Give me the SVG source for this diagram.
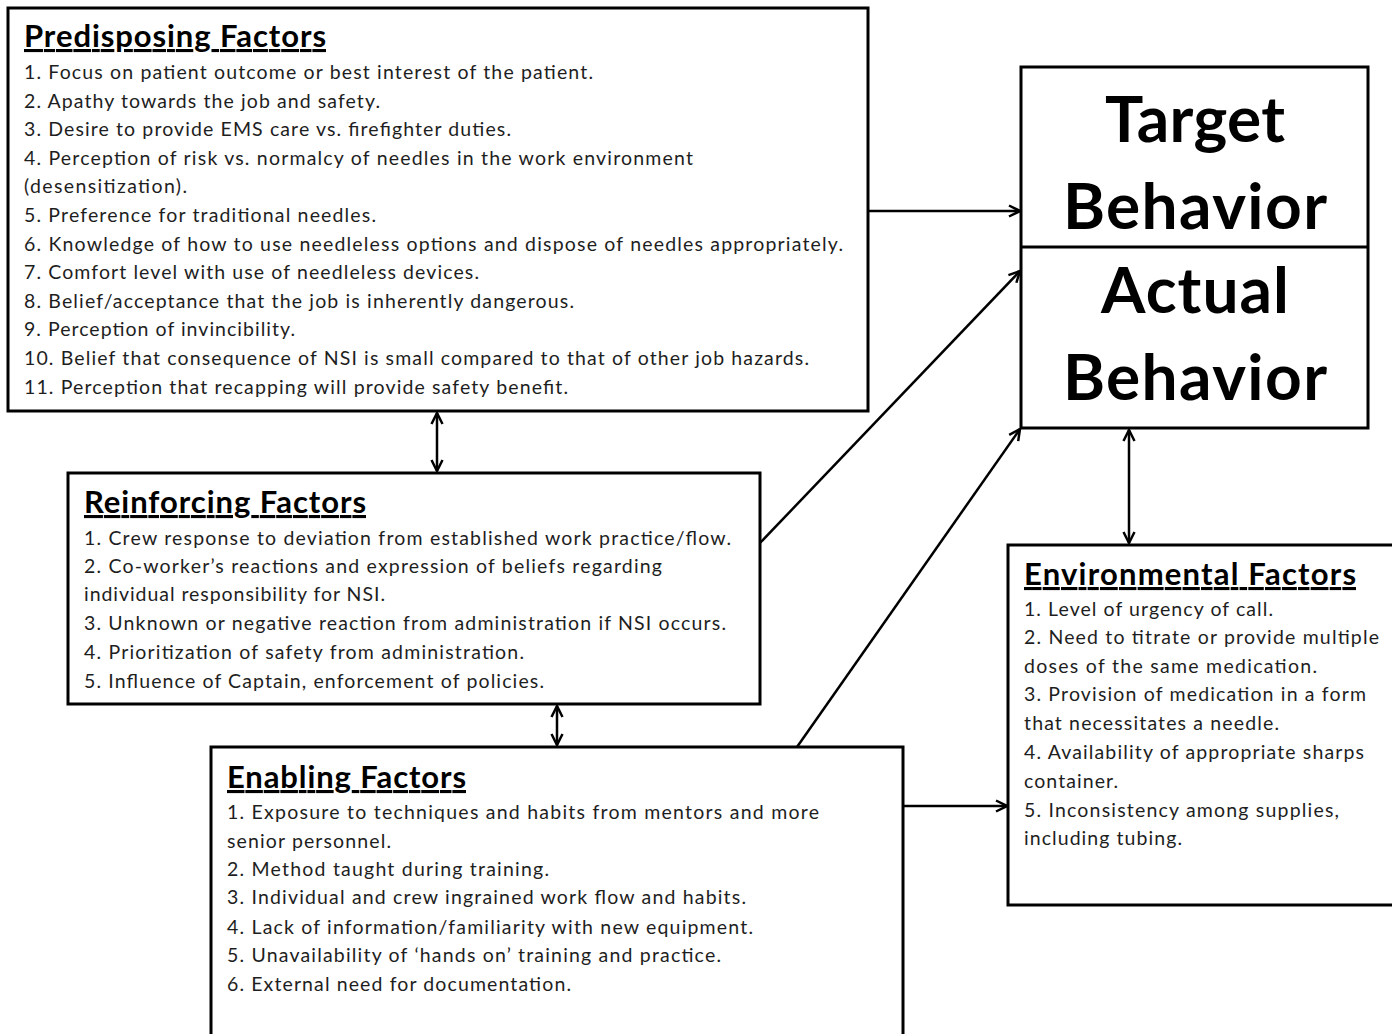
<svg xmlns="http://www.w3.org/2000/svg" width="1392" height="1034" viewBox="0 0 1392 1034">
  <defs>
    <style>
      .box { fill: #ffffff; stroke: #000000; stroke-width: 3; }
      .link { fill: none; stroke: #000000; stroke-width: 2.5; }
      .head { font-family: Lato, "Liberation Sans", sans-serif; font-weight: bold; font-size: 31px; fill: #000000; text-decoration: underline; }
      .item { font-family: Lato, "Liberation Sans", sans-serif; font-size: 19.5px; fill: #1e1e1e; }
      .big { font-family: Lato, "Liberation Sans", sans-serif; font-weight: bold; font-size: 64px; fill: #000000; text-anchor: middle; }
    </style>
    <marker id="head" viewBox="0 0 14 14" refX="13" refY="7" markerWidth="14" markerHeight="14" markerUnits="userSpaceOnUse" orient="auto-start-reverse">
      <path d="M2,1.5 L13,7 L2,12.5" fill="none" stroke="#000000" stroke-width="2.5"/>
    </marker>
  </defs>
  <rect width="1392" height="1034" fill="#ffffff"/>

  <!-- connectors -->
  <g id="connectors">
    <line class="link" x1="868" y1="211" x2="1020" y2="211" marker-end="url(#head)"/>
    <line class="link" x1="437" y1="413" x2="437" y2="471" marker-start="url(#head)" marker-end="url(#head)"/>
    <line class="link" x1="760" y1="543" x2="1020" y2="271" marker-end="url(#head)"/>
    <line class="link" x1="797" y1="747" x2="1020" y2="429" marker-end="url(#head)"/>
    <line class="link" x1="1129" y1="430" x2="1129" y2="543" marker-start="url(#head)" marker-end="url(#head)"/>
    <line class="link" x1="557" y1="706" x2="557" y2="745" marker-start="url(#head)" marker-end="url(#head)"/>
    <line class="link" x1="903" y1="806" x2="1007" y2="806" marker-end="url(#head)"/>
  </g>

  <!-- Predisposing Factors -->
  <g id="predisposing">
    <rect class="box" x="8" y="8" width="860" height="403"/>
    <text class="head" x="24" y="47" textLength="302">Predisposing Factors</text>
    <text class="item" x="24" y="79" textLength="569">1. Focus on patient outcome or best interest of the patient.</text>
    <text class="item" x="24" y="107.6" textLength="356">2. Apathy towards the job and safety.</text>
    <text class="item" x="24" y="136.2" textLength="487">3. Desire to provide EMS care vs. firefighter duties.</text>
    <text class="item" x="24" y="164.8" textLength="669">4. Perception of risk vs. normalcy of needles in the work environment</text>
    <text class="item" x="24" y="193.4" textLength="163">(desensitization).</text>
    <text class="item" x="24" y="222" textLength="352">5. Preference for traditional needles.</text>
    <text class="item" x="24" y="250.6" textLength="819">6. Knowledge of how to use needleless options and dispose of needles appropriately.</text>
    <text class="item" x="24" y="279.2" textLength="455">7. Comfort level with use of needleless devices.</text>
    <text class="item" x="24" y="307.8" textLength="550">8. Belief/acceptance that the job is inherently dangerous.</text>
    <text class="item" x="24" y="336.4" textLength="271">9. Perception of invincibility.</text>
    <text class="item" x="24" y="365" textLength="785">10. Belief that consequence of NSI is small compared to that of other job hazards.</text>
    <text class="item" x="24" y="393.6" textLength="544">11. Perception that recapping will provide safety benefit.</text>
  </g>

  <!-- Target / Actual Behavior -->
  <g id="behavior">
    <rect class="box" x="1021" y="67" width="347" height="361"/>
    <line x1="1021" y1="247" x2="1368" y2="247" stroke="#000000" stroke-width="3"/>
    <text class="big" x="1195" y="142" textLength="180">Target</text>
    <text class="big" x="1195" y="229" textLength="264">Behavior</text>
    <text class="big" x="1195" y="313" textLength="188">Actual</text>
    <text class="big" x="1195" y="400" textLength="264">Behavior</text>
  </g>

  <!-- Reinforcing Factors -->
  <g id="reinforcing">
    <rect class="box" x="68" y="473" width="692" height="231"/>
    <text class="head" x="84" y="513" textLength="282">Reinforcing Factors</text>
    <text class="item" x="84" y="545" textLength="647">1. Crew response to deviation from established work practice/flow.</text>
    <text class="item" x="84" y="573" textLength="578">2. Co-worker’s reactions and expression of beliefs regarding</text>
    <text class="item" x="84" y="601" textLength="301">individual responsibility for NSI.</text>
    <text class="item" x="84" y="630" textLength="642">3. Unknown  or negative reaction from administration if NSI occurs.</text>
    <text class="item" x="84" y="659" textLength="440">4. Prioritization of safety from administration.</text>
    <text class="item" x="84" y="688" textLength="460">5. Influence of Captain, enforcement of policies.</text>
  </g>

  <!-- Enabling Factors -->
  <g id="enabling">
    <rect class="box" x="211" y="747" width="692" height="295"/>
    <text class="head" x="227" y="788" textLength="239">Enabling Factors</text>
    <text class="item" x="227" y="819" textLength="592">1. Exposure to techniques and habits from mentors and more</text>
    <text class="item" x="227" y="848" textLength="164">senior personnel.</text>
    <text class="item" x="227" y="876" textLength="322">2. Method taught during training.</text>
    <text class="item" x="227" y="904" textLength="519">3. Individual and crew ingrained work flow and habits.</text>
    <text class="item" x="227" y="934" textLength="526">4. Lack of information/familiarity with new equipment.</text>
    <text class="item" x="227" y="962" textLength="494">5. Unavailability of ‘hands on’ training and practice.</text>
    <text class="item" x="227" y="991" textLength="344">6. External need for documentation.</text>
  </g>

  <!-- Environmental Factors -->
  <g id="environmental">
    <rect class="box" x="1008" y="545" width="392" height="360"/>
    <text class="head" x="1024" y="585" textLength="332">Environmental Factors</text>
    <text class="item" x="1024" y="616" textLength="249">1. Level of urgency of call.</text>
    <text class="item" x="1024" y="644" textLength="355">2. Need to  titrate or provide multiple</text>
    <text class="item" x="1024" y="673" textLength="293">doses of the same medication.</text>
    <text class="item" x="1024" y="701" textLength="342">3. Provision of medication in a form</text>
    <text class="item" x="1024" y="730" textLength="255">that necessitates a needle.</text>
    <text class="item" x="1024" y="759" textLength="340">4. Availability of appropriate sharps</text>
    <text class="item" x="1024" y="788" textLength="94">container.</text>
    <text class="item" x="1024" y="817" textLength="315">5. Inconsistency among supplies,</text>
    <text class="item" x="1024" y="845" textLength="158">including tubing.</text>
  </g>
</svg>
